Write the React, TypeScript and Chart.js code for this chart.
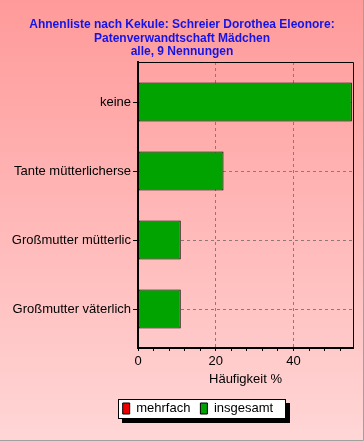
import React, { useEffect, useRef } from "react";
import { Chart, registerables } from "chart.js";

Chart.register(...registerables);

// ---- data ----
const titleLines = [
  "Ahnenliste nach Kekule: Schreier Dorothea Eleonore:",
  "Patenverwandtschaft Mädchen",
  "alle, 9 Nennungen",
];
const categories = [
  "keine",
  "Tante mütterlicherse",
  "Großmutter mütterlic",
  "Großmutter väterlich",
];
const mehrfachValues = [0, 0, 0, 0];
const insgesamtValues = [55, 22, 11, 11];
const seriesNames = ["mehrfach", "insgesamt"];
const xAxisTitle = "Häufigkeit %";
const xMax = 55.3;
const xTickStep = 4;
const xLabelStep = 20;

// ---- styles ----
const FONT = '"Liberation Sans", Arial, sans-serif';
const GREEN = "#00a300";
const RED = "#ee0000";
const GRID = "#8c7878";
const TITLE_BLUE = "#1414e6";

const decorPlugin = {
  id: "decor",
  beforeDraw(chart: any) {
    const { ctx, width, height } = chart;
    ctx.save();
    const g = ctx.createLinearGradient(0, 0, 0, height);
    g.addColorStop(0, "#ff9a9a");
    g.addColorStop(1, "#ffd6d6");
    ctx.fillStyle = g;
    ctx.fillRect(0, 0, width, height);
    ctx.strokeStyle = "#a0a0a0";
    ctx.lineWidth = 1;
    ctx.beginPath();
    ctx.moveTo(width - 0.5, 0);
    ctx.lineTo(width - 0.5, height - 0.5);
    ctx.lineTo(0, height - 0.5);
    ctx.stroke();

    const lg = chart.legend;
    if (lg && lg.lineWidths) {
      const pad = lg.options.labels.padding;
      lg.left = 112.7;
      const itemH = 13;
      const cy = lg.top + pad + itemH / 2;
      const bx = Math.round(lg.left + pad - 5) + 0.5;
      const bw = Math.round(lg.lineWidths[0] + 7);
      const by = Math.round(cy - 9.5) + 0.5;
      const bh = 19;
      ctx.fillStyle = "#000";
      ctx.fillRect(bx - 0.5 + 4, by - 0.5 + 4, bw + 1, bh + 1);
      ctx.fillStyle = "#fff";
      ctx.fillRect(bx, by, bw, bh);
      ctx.strokeStyle = "#000";
      ctx.strokeRect(bx, by, bw, bh);
    }
    ctx.restore();
  },
  afterDraw(chart: any) {
    const { ctx, chartArea: a } = chart;
    ctx.save();
    ctx.strokeStyle = "#000";
    ctx.lineWidth = 1;
    ctx.beginPath();
    ctx.moveTo(a.left, a.top + 0.5);
    ctx.lineTo(a.right + 0.5, a.top + 0.5);
    ctx.lineTo(a.right + 0.5, a.bottom);
    ctx.stroke();
    ctx.restore();
  },
};

export default function App() {
  const ref = useRef<HTMLCanvasElement | null>(null);

  useEffect(() => {
    if (!ref.current) return;
    Chart.defaults.font.family = FONT;
    const chart = new Chart(ref.current, {
      type: "bar",
      data: {
        datasets: [
          {
            label: seriesNames[0],
            data: categories.map((_, i) => ({ x: mehrfachValues[i], y: i })),
            backgroundColor: RED,
            borderColor: "#000",
            borderWidth: 1,
            borderSkipped: false,
            grouped: false,
            categoryPercentage: 1,
            barPercentage: 0.565,
            xAxisID: "x",
            yAxisID: "y",
          },
          {
            label: seriesNames[1],
            data: categories.map((_, i) => ({ x: insgesamtValues[i], y: i })),
            backgroundColor: GREEN,
            borderColor: "#000",
            borderWidth: 1,
            borderSkipped: false,
            grouped: false,
            categoryPercentage: 1,
            barPercentage: 0.565,
            xAxisID: "x",
            yAxisID: "y",
          },
        ] as any,
      },
      options: {
        indexAxis: "y",
        responsive: false,
        animation: false,
        events: [],
        layout: { padding: { left: 0, right: 0, top: 0, bottom: 16 } },
        scales: {
          x: {
            type: "linear",
            position: "bottom",
            min: 0,
            max: xMax,
            offset: false,
            afterFit: (s: any) => {
              s.height = 44;
            },
            ticks: {
              stepSize: xTickStep,
              includeBounds: false,
              autoSkip: false,
              maxRotation: 0,
              padding: 3,
              color: "#000",
              font: { size: 13 },
              callback: (v: any) => (Number(v) % xLabelStep === 0 ? String(v) : ""),
            },
            grid: {
              offset: false,
              color: (c: any) =>
                c.tick && c.tick.value > 0 && c.tick.value % xLabelStep === 0
                  ? GRID
                  : "rgba(0,0,0,0)",
              tickColor: "#000",
              tickLength: 3,
            },
            border: { display: true, color: "#000", width: 2, dash: [3, 3] },
            title: {
              display: true,
              text: xAxisTitle,
              color: "#000",
              font: { size: 13 },
              padding: { top: 0, bottom: 5 },
            },
          },
          y: {
            type: "linear",
            position: "left",
            reverse: true,
            offset: false,
            min: -0.58,
            max: 3.565,
            afterFit: (s: any) => {
              s.width = 138;
            },
            afterBuildTicks: (s: any) => {
              s.ticks = categories.map((_, i) => ({ value: i }));
            },
            ticks: {
              autoSkip: false,
              padding: 2,
              color: "#000",
              font: { size: 13 },
              callback: (v: any) => categories[Number(v)] ?? "",
            },
            grid: { offset: false, color: GRID, tickColor: "#000", tickLength: 5 },
            border: { display: true, color: "#000", width: 2, dash: [3, 3] },
          },
          yRight: {
            type: "linear",
            position: "right",
            display: true,
            afterFit: (s: any) => {
              s.width = 11;
            },
            grid: { display: false, drawTicks: false },
            ticks: { display: false },
            border: { display: false },
          },
        } as any,
        plugins: {
          title: {
            display: true,
            text: titleLines,
            color: TITLE_BLUE,
            font: { size: 12, weight: "bold", lineHeight: 1.1167 },
            padding: { top: 18.3, bottom: 3.5 },
          },
          legend: {
            display: true,
            position: "bottom",
            align: "start",
            labels: {
              boxWidth: 7,
              boxHeight: 11,
              padding: 10,
              color: "#000",
              font: { size: 13 },
            },
          },
          tooltip: { enabled: false },
        },
      } as any,
      plugins: [decorPlugin],
    });
    return () => chart.destroy();
  }, []);

  return (
    <div style={{ position: "fixed", left: 0, top: 0, width: 364, height: 441 }}>
      <canvas ref={ref} width={364} height={441} style={{ display: "block", width: 364, height: 441 }} />
    </div>
  );
}
